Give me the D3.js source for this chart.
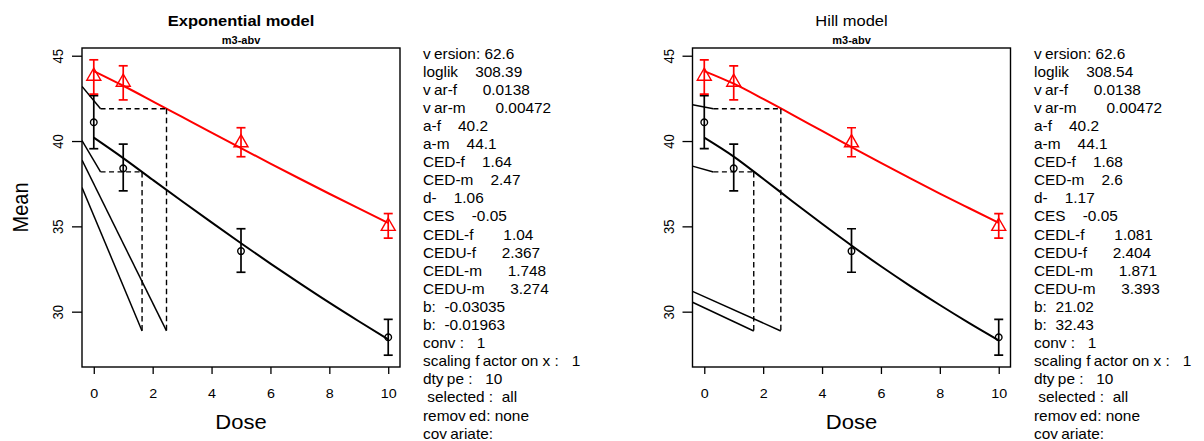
<!DOCTYPE html>
<html>
<head>
<meta charset="utf-8">
<script src="https://cdn.jsdelivr.net/npm/d3@7"></script>
<style>
  body { margin: 0; background: #fff; }
  svg text { font-family: "Liberation Sans", Arial, Helvetica, sans-serif; fill: #000; }
</style>
</head>
<body>
<svg id="chart" width="1204" height="441"></svg>
<script>
// Observed group means with confidence bounds per dose (f = black circles, m = red triangles)
const doses = [0, 1, 5, 10];
const meanF = [41.1, 38.4, 33.55, 28.5];
const lowF  = [39.55, 37.08, 32.31, 27.45];
const highF = [42.66, 39.82, 34.86, 29.55];
const meanM = [43.8, 43.45, 39.9, 35.0];
const lowM  = [42.75, 42.41, 39.08, 34.31];
const highM = [44.76, 44.41, 40.78, 35.75];

// Fitted response curves sampled along the dose axis
const curveDoses = [0, 1, 2, 3, 4, 5, 6, 7, 8, 9, 10];
const expCurveF  = [40.2, 39.0, 37.73, 36.47, 35.23, 34.01, 32.82, 31.66, 30.53, 29.44, 28.37];
const expCurveM  = [44.1, 43.24, 42.33, 41.41, 40.49, 39.58, 38.68, 37.79, 36.91, 36.05, 35.2];
const hillCurveF = [40.2, 39.09, 37.79, 36.46, 35.15, 33.88, 32.66, 31.5, 30.39, 29.33, 28.32];
const hillCurveM = [44.1, 43.36, 42.47, 41.54, 40.59, 39.65, 38.72, 37.81, 36.92, 36.06, 35.21];

// Reference line segments [dose1, mean1, dose2, mean2]
const expRefLines  = [[-0.4, 43.2, 0.23, 41.895], [-0.4, 40.03, 0.23, 38.19], [-0.4, 38.88, 2.47, 28.87], [-0.4, 37.28, 1.64, 28.87]];
const hillRefLines = [[-0.4, 42.12, 0.31, 41.895], [-0.4, 38.53, 0.31, 38.19], [-0.4, 31.19, 2.6, 28.87], [-0.4, 30.55, 1.68, 28.87]];

// Critical effect size levels (0.95 * a) and critical effect doses
const cesLevels = [38.19, 41.895];        // f, m
const expCED  = [1.64, 2.47];
const hillCED = [1.68, 2.6];
const expCesStart  = 0.23;
const hillCesStart = 0.31;
const cedFloor = 28.87;

const xTicks = [0, 2, 4, 6, 8, 10];
const yTicks = [30, 35, 40, 45];

const expInfo = [
  "version: 62.6", "loglik    308.39", "var-f      0.0138", "var-m       0.00472",
  "a-f    40.2", "a-m    44.1", "CED-f    1.64", "CED-m    2.47", "d-    1.06",
  "CES    -0.05", "CEDL-f       1.04", "CEDU-f      2.367", "CEDL-m      1.748",
  "CEDU-m      3.274", "b:  -0.03035", "b:  -0.01963", "conv :   1",
  "scaling factor on x :   1", "dtype :   10", " selected :  all", "removed: none", "covariate:"
];
const hillInfo = [
  "version: 62.6", "loglik    308.54", "var-f      0.0138", "var-m       0.00472",
  "a-f    40.2", "a-m    44.1", "CED-f    1.68", "CED-m    2.6", "d-    1.17",
  "CES    -0.05", "CEDL-f       1.081", "CEDU-f      2.404", "CEDL-m      1.871",
  "CEDU-m      3.393", "b:  21.02", "b:  32.43", "conv :   1",
  "scaling factor on x :   1", "dtype :   10", " selected :  all", "removed: none", "covariate:"
];

const panels = [
  { left: 82,    title: "Exponential model", bold: true,  subtitle: "m3-abv", curveF: expCurveF,  curveM: expCurveM,  refs: expRefLines,  ced: expCED,  cesStart: expCesStart,  info: expInfo,  infoX: 423, yTitle: "Mean" },
  { left: 692.5, title: "Hill model",        bold: false, subtitle: "m3-abv", curveF: hillCurveF, curveM: hillCurveM, refs: hillRefLines, ced: hillCED, cesStart: hillCesStart, info: hillInfo, infoX: 1034, yTitle: null }
];

const TOP = 48, BOTTOM = 367, BOX_W = 318;
const SX = 1.1; // horizontal glyph stretch
const RED = "#ff0000";

const svg = d3.select("#chart");

const yLo = d3.min([...lowF, ...lowM]), yHi = d3.max([...highF, ...highM]);
const yPad = 0.04 * (yHi - yLo);
const y = d3.scaleLinear().domain([yLo - yPad, yHi + yPad]).range([BOTTOM, TOP]);

panels.forEach((p, pi) => {
  const x = d3.scaleLinear().domain([-0.4, 10.4]).range([p.left, p.left + BOX_W]);
  const g = svg.append("g");
  const cx = p.left + BOX_W / 2;

  const clipId = "clip" + pi;
  svg.append("clipPath").attr("id", clipId)
    .append("rect").attr("x", p.left).attr("y", TOP).attr("width", BOX_W).attr("height", BOTTOM - TOP);

  // titles
  g.append("text").attr("text-anchor", "middle")
    .attr("transform", `translate(${cx},26) scale(${SX},1)`)
    .style("font-size", "15px").style("font-weight", p.bold ? "bold" : "normal")
    .text(p.title);
  g.append("text").attr("text-anchor", "middle")
    .attr("transform", `translate(${cx},44) scale(${SX},1)`)
    .style("font-size", "10px").style("font-weight", "bold")
    .text(p.subtitle);

  // axes
  const xAxis = g.append("g").attr("transform", `translate(0,${BOTTOM})`)
    .call(d3.axisBottom(x).tickValues(xTicks).tickSize(7).tickFormat(d3.format("d")));
  xAxis.select(".domain").remove();
  xAxis.selectAll("line").attr("stroke", "#000").attr("stroke-width", 1.3);
  xAxis.selectAll("text").attr("y", null).attr("dy", null)
    .attr("transform", `translate(0,31) scale(${SX},1)`)
    .style("font-size", "13px").attr("fill", "#000");

  const yAxis = g.append("g").attr("transform", `translate(${p.left},0)`)
    .call(d3.axisLeft(y).tickValues(yTicks).tickSize(10).tickFormat(d3.format("d")));
  yAxis.select(".domain").remove();
  yAxis.selectAll("line").attr("stroke", "#000").attr("stroke-width", 1.3);
  yAxis.selectAll("text").attr("x", null).attr("dy", null).attr("text-anchor", "middle")
    .attr("transform", `translate(-19,0) scale(${SX},1) rotate(-90)`)
    .style("font-size", "13px").attr("fill", "#000");

  g.append("text").attr("text-anchor", "middle")
    .attr("transform", `translate(${cx},429) scale(${SX},1)`)
    .style("font-size", "20px").text("Dose");
  if (p.yTitle) {
    g.append("text").attr("text-anchor", "middle")
      .attr("transform", `translate(28,${(TOP + BOTTOM) / 2}) scale(${SX},1) rotate(-90)`)
      .style("font-size", "20px").text(p.yTitle);
  }

  const plot = g.append("g").attr("clip-path", `url(#${clipId})`);

  // fitted curves
  const line = d3.line().x((d, i) => x(curveDoses[i])).y(d => y(d)).curve(d3.curveMonotoneX);
  plot.append("path").attr("d", line(p.curveF)).attr("fill", "none").attr("stroke", "#000").attr("stroke-width", 2);
  plot.append("path").attr("d", line(p.curveM)).attr("fill", "none").attr("stroke", RED).attr("stroke-width", 2);

  // reference segments
  plot.selectAll("line.ref").data(p.refs).join("line").attr("class", "ref")
    .attr("x1", d => x(d[0])).attr("y1", d => y(d[1]))
    .attr("x2", d => x(d[2])).attr("y2", d => y(d[3]))
    .attr("stroke", "#000").attr("stroke-width", 1.5);

  // CES / CED dashed guides
  cesLevels.forEach((lvl, k) => {
    plot.append("line")
      .attr("x1", x(p.cesStart)).attr("x2", x(p.ced[k]))
      .attr("y1", y(lvl)).attr("y2", y(lvl))
      .attr("stroke", "#000").attr("stroke-width", 1.4).attr("stroke-dasharray", "5,3.5");
    plot.append("line")
      .attr("x1", x(p.ced[k])).attr("x2", x(p.ced[k]))
      .attr("y1", y(lvl)).attr("y2", y(cedFloor))
      .attr("stroke", "#000").attr("stroke-width", 1.4).attr("stroke-dasharray", "5.5,3.5");
  });

  // error bars and markers
  const groups = [
    { mean: meanF, low: lowF, high: highF, color: "#000", shape: d3.symbolCircle, size: 34 },
    { mean: meanM, low: lowM, high: highM, color: RED, shape: d3.symbolTriangle, size: 85 }
  ];
  groups.forEach(gr => {
    const eb = plot.append("g").attr("stroke", gr.color).attr("stroke-width", 1.7).attr("fill", "none");
    doses.forEach((dv, i) => {
      const px = x(dv);
      eb.append("line").attr("x1", px).attr("x2", px).attr("y1", y(gr.low[i])).attr("y2", y(gr.high[i]));
      eb.append("line").attr("x1", px - 4.5).attr("x2", px + 4.5).attr("y1", y(gr.low[i])).attr("y2", y(gr.low[i]));
      eb.append("line").attr("x1", px - 4.5).attr("x2", px + 4.5).attr("y1", y(gr.high[i])).attr("y2", y(gr.high[i]));
    });
    plot.selectAll(null).data(gr.mean).join("path")
      .attr("transform", (d, i) => `translate(${x(doses[i])},${y(d)})`)
      .attr("d", d3.symbol().type(gr.shape).size(gr.size))
      .attr("fill", "none").attr("stroke", gr.color).attr("stroke-width", 1.4);
  });

  // plot frame
  g.append("rect").attr("x", p.left).attr("y", TOP).attr("width", BOX_W).attr("height", BOTTOM - TOP)
    .attr("fill", "none").attr("stroke", "#000").attr("stroke-width", 1.4);

  // model summary block (spaces kept as non-breaking so the column gaps survive)
  const info = g.append("g");
  p.info.forEach((s, i) => {
    const t = info.append("text")
      .attr("transform", `translate(${p.infoX},${58.5 + i * 18.1}) scale(${SX},1)`)
      .style("font-size", "14px");
    // glyph spacing after v, f, y inside words
    const parts = s.split(/(?<=[vfy])(?=[a-z])/);
    parts.forEach((part, j) => {
      t.append("tspan").attr("dx", j === 0 ? 0 : 3).text(part.replace(/ /g, "\u00a0"));
    });
  });
});
</script>
</body>
</html>
